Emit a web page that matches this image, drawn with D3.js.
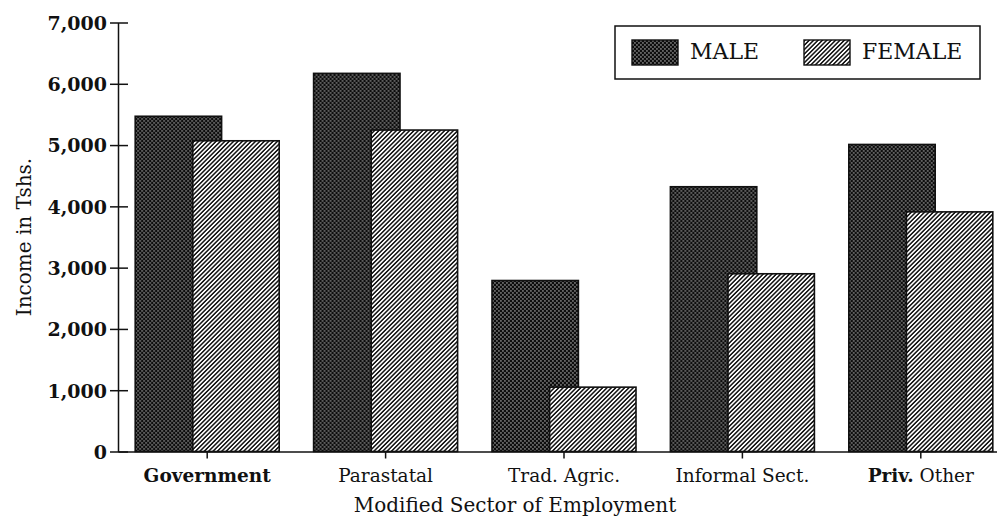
<!doctype html>
<html lang="en">
<head>
  <meta charset="utf-8">
  <title>Income by sector</title>
  <style>
    body { margin: 0; background: #fff; }
    svg { display: block; font-family: "DejaVu Serif", "Liberation Serif", serif; }
    .axis path, .axis line { stroke: #111; stroke-width: 1.5; }
    .axis text { font-family: "DejaVu Serif", serif; font-weight: bold; font-size: 19px; fill: #111; }
    .bar { stroke: #111; stroke-width: 1.6; }
  </style>
  <script src="https://cdn.jsdelivr.net/npm/d3@7"></script>
</head>
<body>
  <div id="chart"></div>
  <script>
  // values (Tshs.)
  var sectors = ["Government", "Parastatal", "Trad. Agric.", "Informal Sect.", "Priv. Other"];
  var series = ["MALE", "FEMALE"];
  var male = [5470, 6170, 2790, 4320, 5010];
  var female = [5070, 5245, 1050, 2900, 3910];
  var yTicks = [0, 1000, 2000, 3000, 4000, 5000, 6000, 7000];

  (function(){
    var width = 997, height = 518;

    var svg = d3.select("#chart").append("svg")
        .attr("width", width)
        .attr("height", height);

    // patterns: dark dotted for male, "////" hatch for female
    var defs = svg.append("defs");
    var pm = defs.append("pattern").attr("id", "pat-male")
        .attr("patternUnits", "userSpaceOnUse").attr("width", 4).attr("height", 4);
    pm.append("rect").attr("width", 4).attr("height", 4).attr("fill", "#0d0d0d");
    pm.append("rect").attr("x", 0.4).attr("y", 0.4).attr("width", 1.1).attr("height", 1.1).attr("fill", "#fff");
    pm.append("rect").attr("x", 2.4).attr("y", 2.4).attr("width", 1.1).attr("height", 1.1).attr("fill", "#fff");

    var pf = defs.append("pattern").attr("id", "pat-female")
        .attr("patternUnits", "userSpaceOnUse").attr("width", 3.1).attr("height", 6)
        .attr("patternTransform", "rotate(45)");
    pf.append("rect").attr("width", 3.1).attr("height", 6).attr("fill", "#fff");
    pf.append("line").attr("x1", 0.8).attr("y1", 0).attr("x2", 0.8).attr("y2", 6)
        .attr("stroke", "#111").attr("stroke-width", 1.5);

    var fills = { MALE: "url(#pat-male)", FEMALE: "url(#pat-female)" };

    var x = d3.scaleBand().domain(sectors).range([118, 1010]);
    var y = d3.scaleLinear().domain([0, 7000]).range([451.5, 22.5]);
    // bars within a group overlap, hence the negative inner padding
    var xs = d3.scaleBand().domain(series).range([-72, 72]).paddingInner(-0.5);

    var rows = sectors.map(function(s, i) {
      return { sector: s, values: [{ key: "MALE", v: male[i] }, { key: "FEMALE", v: female[i] }] };
    });

    var groups = svg.append("g").selectAll("g").data(rows).enter().append("g")
        .attr("transform", function(d) { return "translate(" + (x(d.sector) + x.bandwidth() / 2) + ",0)"; });

    groups.selectAll("rect").data(function(d) { return d.values; }).enter().append("rect")
        .attr("class", "bar")
        .attr("x", function(d) { return xs(d.key); })
        .attr("width", xs.bandwidth())
        .attr("y", function(d) { return y(d.v); })
        .attr("height", function(d) { return y(0) - y(d.v); })
        .attr("fill", function(d) { return fills[d.key]; });

    // y axis, ticks cross the line
    var yAxis = svg.append("g").attr("class", "axis").attr("transform", "translate(118,0)")
        .call(d3.axisLeft(y).tickValues(yTicks).tickFormat(d3.format(",")).tickSize(8).tickPadding(3).tickSizeOuter(0));
    yAxis.selectAll(".tick line").attr("x2", -8).attr("x1", 10);
    yAxis.selectAll(".tick text").attr("dy", "0.36em");

    // x axis
    svg.append("g").attr("class", "axis").attr("transform", "translate(0," + y(0) + ")")
        .call(d3.axisBottom(x).tickSize(7).tickSizeOuter(0).tickFormat(""));

    // category labels (some words printed heavier in the source)
    var heavy = { "Government": true, "Priv.": true };
    svg.append("g").selectAll("text").data(sectors).enter().append("text")
        .attr("x", function(d) { return x(d) + x.bandwidth() / 2; })
        .attr("y", 482)
        .attr("text-anchor", "middle")
        .attr("font-size", 18.5)
        .attr("fill", "#111")
        .each(function(d) {
          var t = d3.select(this);
          d.split(" ").forEach(function(w, i) {
            t.append("tspan").text((i ? " " : "") + w)
              .attr("font-weight", heavy[w] ? "bold" : "normal");
          });
        });

    svg.append("text")
        .attr("x", 515).attr("y", 512)
        .attr("text-anchor", "middle")
        .attr("font-size", 20)
        .attr("fill", "#111")
        .text("Modified Sector of Employment");

    svg.append("text")
        .attr("transform", "translate(31,237) rotate(-90)")
        .attr("text-anchor", "middle")
        .attr("font-size", 20)
        .attr("fill", "#111")
        .text("Income in Tshs.");

    // legend
    var legend = svg.append("g");
    legend.append("rect").attr("x", 615).attr("y", 26).attr("width", 365).attr("height", 53)
        .attr("fill", "#fff").attr("stroke", "#111").attr("stroke-width", 1.5);
    var items = legend.selectAll("g").data(series).enter().append("g")
        .attr("transform", function(d, i) { return "translate(" + (632 + i * 172) + ",40)"; });
    items.append("rect").attr("width", 46).attr("height", 25)
        .attr("fill", function(d) { return fills[d]; })
        .attr("stroke", "#111").attr("stroke-width", 1.4);
    items.append("text").attr("x", 58).attr("y", 19)
        .attr("font-size", 22).attr("fill", "#111")
        .text(function(d) { return d; });
  })();
  </script>
</body>
</html>
